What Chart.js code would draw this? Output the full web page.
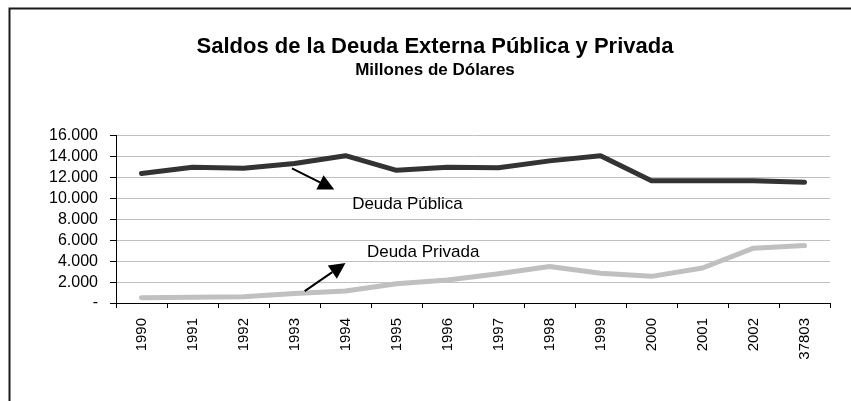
<!DOCTYPE html>
<html>
<head>
<meta charset="utf-8">
<script src="https://cdn.jsdelivr.net/npm/chart.js@4"></script>
<style>
  html, body { margin: 0; padding: 0; background: #fff; }
  #chart { display: block; }
</style>
</head>
<body>
<canvas id="chart" width="851" height="401"></canvas>
<script>
const years = ['1990', '1991', '1992', '1993', '1994', '1995', '1996', '1997', '1998', '1999', '2000', '2001', '2002', '37803'];
const deudaPublica = [12400, 13000, 12900, 13350, 14100, 12700, 13000, 12950, 13600, 14100, 11700, 11700, 11700, 11550];
const deudaPrivada = [500, 550, 600, 900, 1150, 1850, 2200, 2800, 3500, 2850, 2550, 3350, 5250, 5500];
const yTicks = [0, 2000, 4000, 6000, 8000, 10000, 12000, 14000, 16000];

const FONT = "'Liberation Sans', Arial, sans-serif";

function fmt(v) {
    if (v === 0) return '-';
    return String(v).replace(/\B(?=(\d{3})+(?!\d))/g, '.');
}

// outer frame of the chart (only top and left edges are inside the window)
const framePlugin = {
    id: 'frame',
    afterDraw(chart) {
        const ctx = chart.ctx;
        ctx.save();
        ctx.strokeStyle = '#1a1a1a';
        ctx.lineWidth = 2;
        ctx.beginPath();
        ctx.moveTo(9.5, chart.height);
        ctx.lineTo(9.5, 8.5);
        ctx.lineTo(chart.width, 8.5);
        ctx.stroke();
        ctx.restore();
    }
};

// arrows and series labels, placed in data units
const labelsPlugin = {
    id: 'seriesLabels',
    afterDatasetsDraw(chart) {
        const ctx = chart.ctx;
        const x = chart.scales.x;
        const y = chart.scales.y;

        function arrow(x0, y0, x1, y1) {
            const ax = x.getPixelForValue(x0), ay = y.getPixelForValue(y0);
            const bx = x.getPixelForValue(x1), by = y.getPixelForValue(y1);
            const ang = Math.atan2(by - ay, bx - ax);
            const len = 16, half = 8;
            const hx = bx - len * Math.cos(ang), hy = by - len * Math.sin(ang);
            ctx.beginPath();
            ctx.moveTo(ax, ay);
            ctx.lineTo(hx, hy);
            ctx.stroke();
            ctx.beginPath();
            ctx.moveTo(bx, by);
            ctx.lineTo(hx + half * Math.sin(ang), hy - half * Math.cos(ang));
            ctx.lineTo(hx - half * Math.sin(ang), hy + half * Math.cos(ang));
            ctx.closePath();
            ctx.fill();
        }

        ctx.save();
        ctx.strokeStyle = '#000';
        ctx.fillStyle = '#000';
        ctx.lineWidth = 2;
        arrow(2.95, 12875, 3.78, 10850);
        arrow(3.2, 1136, 4.0, 3820);

        ctx.font = '17px ' + FONT;
        ctx.textAlign = 'left';
        ctx.textBaseline = 'middle';
        ctx.fillText('Deuda Pública', x.getPixelForValue(4.13), y.getPixelForValue(9467));
        ctx.fillText('Deuda Privada', x.getPixelForValue(4.42), y.getPixelForValue(4828));
        ctx.restore();
    }
};

new Chart(document.getElementById('chart'), {
    type: 'line',
    data: {
        labels: years,
        datasets: [{
            label: 'Deuda Pública',
            data: deudaPublica,
            borderColor: '#333333',
            borderWidth: 5,
            pointRadius: 0,
            tension: 0,
            borderJoinStyle: 'round',
            borderCapStyle: 'round'
        }, {
            label: 'Deuda Privada',
            data: deudaPrivada,
            borderColor: '#c0c0c0',
            borderWidth: 5,
            pointRadius: 0,
            tension: 0,
            borderJoinStyle: 'round',
            borderCapStyle: 'round'
        }]
    },
    options: {
        responsive: false,
        animation: false,
        layout: {
            padding: { left: 40, right: 21, top: 0, bottom: 0 }
        },
        plugins: {
            legend: { display: false },
            tooltip: { enabled: false },
            title: {
                display: true,
                text: 'Saldos de la Deuda Externa Pública y Privada',
                color: '#000',
                font: { family: FONT, size: 22, weight: 'bold' },
                padding: { top: 34, bottom: 0 }
            },
            subtitle: {
                display: true,
                text: 'Millones de Dólares',
                color: '#000',
                font: { family: FONT, size: 17, weight: 'bold' },
                padding: { top: 0, bottom: 55 }
            }
        },
        scales: {
            x: {
                offset: true,
                grid: {
                    offset: true,
                    drawOnChartArea: false,
                    drawTicks: true,
                    tickLength: 5,
                    tickColor: '#000'
                },
                border: { color: '#000', width: 1 },
                ticks: {
                    color: '#000',
                    font: { family: FONT, size: 15 },
                    minRotation: 90,
                    maxRotation: 90,
                    autoSkip: false,
                    padding: 10
                },
                afterFit(scale) { scale.height = 98; }
            },
            y: {
                min: 0,
                max: 16000,
                afterBuildTicks(scale) {
                    scale.ticks = yTicks.map(v => ({ value: v }));
                },
                grid: {
                    color: '#c0c0c0',
                    lineWidth: 1,
                    drawTicks: true,
                    tickLength: 6,
                    tickColor: '#000'
                },
                border: { color: '#000', width: 1 },
                ticks: {
                    color: '#000',
                    font: { family: FONT, size: 16 },
                    padding: 12,
                    autoSkip: false,
                    callback: (v) => fmt(v)
                },
                afterFit(scale) { scale.width = 76; }
            }
        }
    },
    plugins: [framePlugin, labelsPlugin]
});
</script>
</body>
</html>
